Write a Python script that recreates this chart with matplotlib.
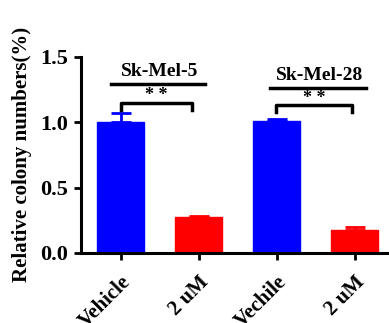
import matplotlib.pyplot as plt

# data
groups = ['Vehicle', '2 uM', 'Vechile', '2 uM']
means = [1.0, 0.275, 1.01, 0.175]
errs = [0.07, 0.008, 0.015, 0.02]
colors = ['#0000ff', '#ff0000', '#0000ff', '#ff0000']
lines = ['Sk-Mel-5', 'Sk-Mel-28']

plt.rcParams['font.family'] = ['Liberation Serif', 'DejaVu Serif']
plt.rcParams['font.weight'] = 'bold'

fig = plt.figure(figsize=(3.89, 3.23), dpi=100)
ax = fig.add_axes([0.208, 0.217, 0.792, 0.607])

x = list(range(len(groups)))
for i in x:
    ax.bar(i, means[i], width=0.6, color=colors[i], edgecolor=colors[i], linewidth=1)
    ax.errorbar(i, means[i], yerr=[[0], [errs[i]]], fmt='none', ecolor=colors[i],
                elinewidth=2, capsize=7, capthick=2)

ax.set_xlim(-0.51, 3.44)
ax.set_ylim(0, 1.5)
ax.set_yticks([0, 0.5, 1.0, 1.5])
ax.set_yticklabels(['0.0', '0.5', '1.0', '1.5'], fontsize=16, fontweight='bold')
ax.set_xticks(x)
ax.set_xticklabels(groups, rotation=45, ha='right', va='top', rotation_mode='anchor',
                   fontsize=15, fontweight='bold')
ax.tick_params(axis='both', direction='out', width=2, length=5)
ax.tick_params(axis='x', pad=9)
ax.tick_params(axis='y', pad=4)
for s in ['top', 'right']:
    ax.spines[s].set_visible(False)
for s in ['left', 'bottom']:
    ax.spines[s].set_linewidth(2.2)
ax.set_ylabel('Relative colony numbers(%)', fontsize=15, fontweight='bold', labelpad=6)

# cell line labels with underline
ax.text(0.5, 1.385, lines[0], ha='center', va='center', fontsize=14, fontweight='bold')
ax.plot([-0.13, 1.08], [1.293, 1.293], color='black', lw=2.5, clip_on=False)
ax.text(2.55, 1.36, lines[1], ha='center', va='center', fontsize=14, fontweight='bold')
ax.plot([1.91, 3.15], [1.262, 1.262], color='black', lw=2.5, clip_on=False)

# significance brackets
for x0, x1, y in [(0, 0.92, 1.148), (1.99, 2.97, 1.13)]:
    ax.plot([x0, x0, x1, x1], [y - 0.055, y, y, y - 0.055], color='black', lw=2.5)
    ax.text((x0 + x1) / 2, y - 0.01, '* *', ha='center', va='bottom', fontsize=13,
            fontweight='bold')

fig.savefig('out.png', dpi=100)
